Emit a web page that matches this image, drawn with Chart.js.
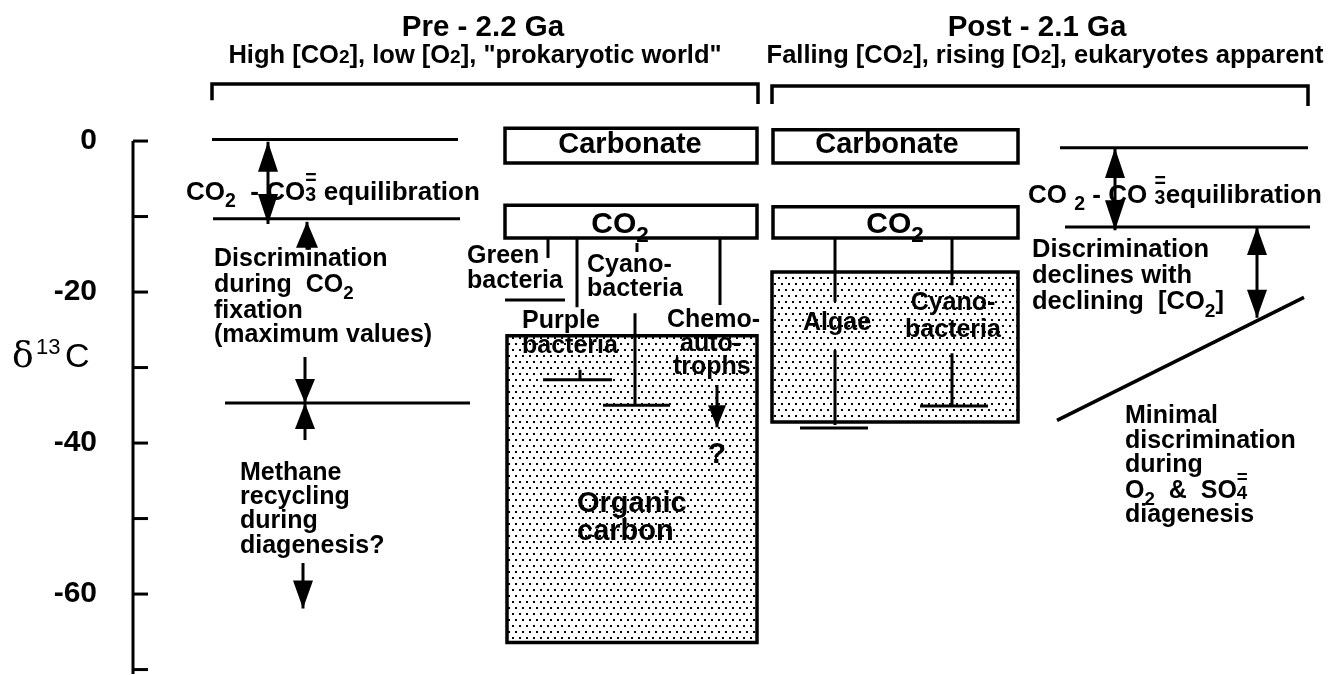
<!DOCTYPE html>
<html>
<head>
<meta charset="utf-8">
<script src="https://cdn.jsdelivr.net/npm/chart.js@4.4.1/dist/chart.umd.min.js"></script>
<style>
body { margin: 0; background: #fff; }
</style>
</head>
<body>
<canvas id="grafica" width="1334" height="675"></canvas>
<script>
// ---- datos (delta 13C en permil) ----
const marcasEje = [0, -10, -20, -30, -40, -50, -60, -70];
const etiquetasEje = [0, -20, -40, -60];
const finEje = -70.6;

// cajas: carbonato y CO2 de cada epoca, luego carbono organico
const cajaArriba = [1.7, -8.5, 1.5, -8.7, -25.8, -17.35];
const cajaAbajo = [-2.9, -12.85, -2.9, -12.85, -66.4, -37.2];
const cajaPuntos = [false, false, false, false, true, true];

// lineas horizontales de referencia
const lineasRef = [0.2, -10.3, -34.7, -0.9, -11.4];
// linea inclinada (discriminacion minima)
const rectaValores = [-37.0, -20.7];

// ramas de organismos (desde la caja CO2 hacia abajo)
const ramaDesde = [-12.85, -12.85, -30.3, -13.5, -22.8, -12.85, -12.85, -27.7, -12.85, -28.1];
const ramaHasta = [-15.5, -22.0, -31.6, -14.7, -35.0, -21.7, -21.3, -37.6, -19.1, -35.1];
// valores minimos (topes horizontales)
const topeValor = [-21.06, -31.6, -35.0, -38.0, -35.1];

// flechas
const flechaDesde = [-0.1, -14.4, -28.6, -39.6, -55.9, -32.3, -0.93, -11.4];
const flechaHasta = [-11.0, -10.7, -34.7, -34.7, -61.9, -37.9, -11.8, -23.4];
const flechaDoble = [true, false, false, false, false, false, true, true];

// textos
const textos = [
  'Pre - 2.2 Ga',
  'High [CO.{2}], low [O.{2}], "prokaryotic world"',
  'Post - 2.1 Ga',
  'Falling [CO.{2}], rising [O.{2}], eukaryotes apparent',
  'CO_{2}  - CO~{=|3} equilibration',
  'Discrimination', 'during  CO_{2}', 'fixation', '(maximum values)',
  'Methane', 'recycling', 'during', 'diagenesis?',
  'Carbonate', 'CO_{2}',
  'Green', 'bacteria', 'Cyano-', 'bacteria', 'Purple', 'bacteria',
  'Chemo-', 'auto-', 'trophs', '?', 'Organic', 'carbon',
  'Carbonate', 'CO_{2}', 'Algae', 'Cyano-', 'bacteria',
  'CO _{2} - CO ~{=|3}equilibration',
  'Discrimination', 'declines with', 'declining  [CO_{2}]',
  'Minimal', 'discrimination', 'during', 'O_{2}  &  SO~{=|4}', 'diagenesis'
];

// ---- posiciones y tamaños (x en px del dibujo, y en permil) ----
const cajaX = [[505, 757], [505, 757], [773, 1018], [773, 1018], [507, 757], [772, 1018]];
const lineasX = [[212, 458], [213, 460], [225, 470], [1060, 1308], [1065, 1310]];
const rectaX = [1057, 1304];
const ramaX = [548, 577, 580, 637, 635, 720, 835, 835, 952, 952];
const topeX = [[505, 565], [543, 612], [603, 670], [800, 868], [920, 988]];
const flechaX = [268, 307, 305, 305, 303, 717, 1115, 1257];
const flechaCabeza = [[30, 20], [26, 22], [24, 20], [26, 20], [28, 20], [22, 18], [30, 20], [28, 20]];
const llaves = [
  [[212, 5.4], [212, 7.55], [758, 7.55], [758, 4.9]],
  [[772, 4.9], [772, 7.28], [1308, 7.28], [1308, 4.64]]
];
const posTextos = [
  [483, 13.9, 29.5, 'c'],
  [475, 10.3, 25.5, 'c'],
  [1037, 13.9, 29.5, 'c'],
  [1045, 10.3, 25.5, 'c'],
  [186, -7.8, 26, 'l'],
  [214, -16.6, 25, 'l'], [214, -20.0, 25, 'l'], [214, -23.4, 25, 'l'], [214, -26.6, 25, 'l'],
  [240, -44.9, 25, 'l'], [240, -48.1, 25, 'l'], [240, -51.3, 25, 'l'], [240, -54.6, 25, 'l'],
  [630, -1.6, 29, 'c'], [620, -12.2, 30, 'c'],
  [467, -16.2, 25, 'l'], [467, -19.5, 25, 'l'], [587, -17.35, 25, 'l'], [587, -20.5, 25, 'l'],
  [522, -24.8, 25, 'l'], [522, -28.1, 25, 'l'],
  [667, -24.6, 25, 'l'], [680, -27.8, 25, 'l'], [673, -30.9, 25, 'l'],
  [717, -42.6, 30, 'c'], [577, -49.1, 29, 'l'], [577, -52.8, 29, 'l'],
  [887, -1.6, 29, 'c'], [895, -12.2, 30, 'c'], [837, -25.0, 25, 'c'], [953, -22.4, 25, 'c'], [953, -26.0, 25, 'c'],
  [1028, -8.2, 26, 'l'],
  [1032, -15.4, 25.5, 'l'], [1032, -18.8, 25.5, 'l'], [1032, -22.3, 25.5, 'l'],
  [1125, -37.35, 25, 'l'], [1125, -40.7, 25, 'l'], [1125, -43.8, 25, 'l'], [1125, -47.3, 25, 'l'], [1125, -50.5, 25, 'l']
];

const FAMILIA = '"Liberation Sans", Arial, Helvetica, sans-serif';
function fuente(tam, peso) {
  return (peso || 'bold') + ' ' + tam + 'px ' + FAMILIA;
}

// patron de puntos para las cajas de carbono organico
function patronPuntos() {
  var c = document.createElement('canvas');
  c.width = 7; c.height = 12;
  var g = c.getContext('2d');
  g.fillStyle = '#fff';
  g.fillRect(0, 0, 7, 12);
  g.fillStyle = '#000';
  g.fillRect(1, 1, 2, 2);
  g.fillRect(4, 7, 2, 2);
  return document.getElementById('grafica').getContext('2d').createPattern(c, 'repeat');
}

// ---- armado de los datasets ----
var datasets = [];
function linea(puntos, ancho, extra) {
  var ds = {
    data: puntos.map(function (p) { return { x: p[0], y: p[1] }; }),
    borderColor: '#000', borderWidth: ancho || 3, pointRadius: 0,
    fill: false, tension: 0, clip: false, borderCapStyle: 'butt', order: 0
  };
  return datasets.push(Object.assign(ds, extra || {}));
}

var patron = patronPuntos();
cajaArriba.forEach(function (top, i) {
  var x0 = cajaX[i][0], x1 = cajaX[i][1], bot = cajaAbajo[i];
  linea([[x0, top], [x1, top], [x1, bot], [x0, bot], [x0, top]], 3.5, {
    fill: cajaPuntos[i] ? 'shape' : false,
    backgroundColor: cajaPuntos[i] ? patron : 'rgba(0,0,0,0)',
    borderCapStyle: 'square', borderJoinStyle: 'miter', order: 10
  });
});

// eje vertical y sus marcas
linea([[133, 0], [133, finEje]], 3);
marcasEje.forEach(function (v) { linea([[133, v], [148, v]], 3); });

llaves.forEach(function (ll) { linea(ll, 3.5, { borderJoinStyle: 'miter' }); });
lineasRef.forEach(function (v, i) { linea([[lineasX[i][0], v], [lineasX[i][1], v]], 3); });
linea([[rectaX[0], rectaValores[0]], [rectaX[1], rectaValores[1]]], 3.5);
ramaDesde.forEach(function (v, i) { linea([[ramaX[i], v], [ramaX[i], ramaHasta[i]]], 3); });
topeValor.forEach(function (v, i) { linea([[topeX[i][0], v], [topeX[i][1], v]], 3); });
flechaDesde.forEach(function (v, i) { linea([[flechaX[i], v], [flechaX[i], flechaHasta[i]]], 3); });

// ---- texto con subindices ----
function partes(txt) {
  var out = [], re = /([_.^~])\{([^}]*)\}/g, ultimo = 0, m;
  while ((m = re.exec(txt))) {
    if (m.index > ultimo) out.push({ t: txt.slice(ultimo, m.index), k: 'n' });
    out.push({ t: m[2], k: m[1] });
    ultimo = re.lastIndex;
  }
  if (ultimo < txt.length) out.push({ t: txt.slice(ultimo), k: 'n' });
  return out;
}
function anchoParte(ctx, p, tam) {
  if (p.k === 'n') { ctx.font = fuente(tam); return ctx.measureText(p.t).width; }
  ctx.font = fuente(tam * 0.75);
  if (p.k === '~') {
    var ab = p.t.split('|');
    return Math.max(ctx.measureText(ab[0]).width, ctx.measureText(ab[1]).width);
  }
  return ctx.measureText(p.t).width;
}
function textoRico(ctx, txt, x, y, tam, alin) {
  var ps = partes(txt);
  var total = 0;
  ps.forEach(function (p) { total += anchoParte(ctx, p, tam); });
  var cx = alin === 'c' ? x - total / 2 : (alin === 'r' ? x - total : x);
  ctx.textAlign = 'left';
  ctx.textBaseline = 'alphabetic';
  ctx.fillStyle = '#000';
  ps.forEach(function (p) {
    var w = anchoParte(ctx, p, tam);
    if (p.k === 'n') { ctx.font = fuente(tam); ctx.fillText(p.t, cx, y); }
    else {
      ctx.font = fuente(tam * 0.75);
      if (p.k === '_') ctx.fillText(p.t, cx, y + tam * 0.28);
      else if (p.k === '.') ctx.fillText(p.t, cx, y);
      else if (p.k === '^') ctx.fillText(p.t, cx, y - tam * 0.45);
      else {
        var ab = p.t.split('|');
        ctx.fillText(ab[1], cx, y + tam * 0.05);
        ctx.fillText(ab[0], cx, y - tam * 0.6);
      }
    }
    cx += w;
  });
}

var dibujos = {
  id: 'dibujos',
  afterDatasetsDraw: function (chart) {
    var ctx = chart.ctx, sx = chart.scales.x, sy = chart.scales.y;
    ctx.save();
    // puntas de flecha
    ctx.fillStyle = '#000';
    flechaDesde.forEach(function (v, i) {
      var x = sx.getPixelForValue(flechaX[i]);
      var a = sy.getPixelForValue(v), b = sy.getPixelForValue(flechaHasta[i]);
      var L = flechaCabeza[i][0], W = flechaCabeza[i][1] / 2;
      var puntas = flechaDoble[i] ? [[b, a], [a, b]] : [[b, a]];
      puntas.forEach(function (pt) {
        var tip = pt[0], dir = pt[1] > pt[0] ? 1 : -1;
        ctx.beginPath();
        ctx.moveTo(x, tip);
        ctx.lineTo(x - W, tip + dir * L);
        ctx.lineTo(x + W, tip + dir * L);
        ctx.closePath();
        ctx.fill();
      });
    });
    textos.forEach(function (t, i) {
      var p = posTextos[i];
      textoRico(ctx, t, sx.getPixelForValue(p[0]), sy.getPixelForValue(p[1]), p[2], p[3]);
    });
    // titulo del eje: delta 13C
    var yb = sy.getPixelForValue(-29.9);
    ctx.textAlign = 'left';
    ctx.font = 'normal 36px "DejaVu Serif", "Liberation Serif", serif';
    ctx.fillText('\u03B4', 12, yb);
    ctx.font = fuente(22, 'normal');
    ctx.fillText('13', 36, yb - 13);
    ctx.font = fuente(34, 'normal');
    ctx.fillText('C', 65, yb);
    ctx.restore();
  }
};

new Chart(document.getElementById('grafica').getContext('2d'), {
  type: 'line',
  data: { datasets: datasets },
  options: {
    responsive: false,
    animation: false,
    devicePixelRatio: 1,
    layout: { padding: 0 },
    plugins: { legend: { display: false }, tooltip: { enabled: false } },
    scales: {
      x: { type: 'linear', min: 133, max: 1334, display: false },
      y: {
        type: 'linear', min: -70.72, max: 18.68,
        afterFit: function (s) { s.width = 133; s.paddingTop = 0; s.paddingBottom = 0; },
        afterBuildTicks: function (s) { s.ticks = etiquetasEje.map(function (v) { return { value: v }; }); },
        border: { display: false },
        grid: { display: false, drawTicks: false },
        ticks: { color: '#000', padding: 36, font: { family: FAMILIA, size: 30, weight: 'bold' } }
      }
    }
  },
  plugins: [dibujos]
});
</script>
</body>
</html>
